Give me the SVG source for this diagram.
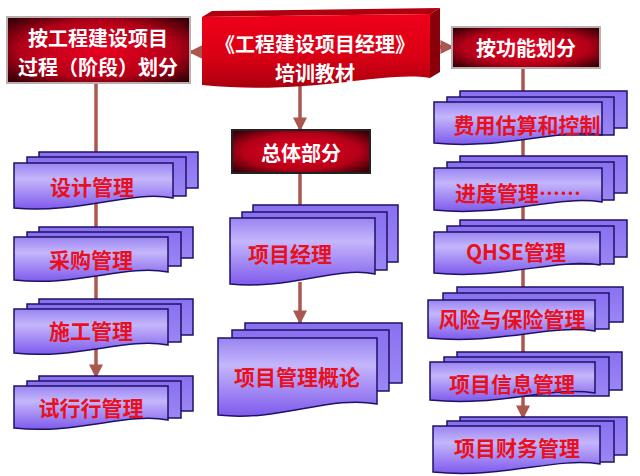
<svg xmlns="http://www.w3.org/2000/svg" width="640" height="476" viewBox="0 0 640 476">
<defs>
<linearGradient id="docg" x1="0" y1="0" x2="0" y2="1">
<stop offset="0" stop-color="#9a84f2"/>
<stop offset="0.35" stop-color="#c4b6fb"/>
<stop offset="1" stop-color="#7f5aec"/>
</linearGradient>
<linearGradient id="backg" x1="0" y1="0" x2="0" y2="1">
<stop offset="0" stop-color="#8a70f0"/>
<stop offset="1" stop-color="#9c86f4"/>
</linearGradient>
<radialGradient id="hdr" cx="0.5" cy="0.5" r="0.65">
<stop offset="0" stop-color="#ea0020"/>
<stop offset="0.65" stop-color="#b40018"/>
<stop offset="1" stop-color="#3a0006"/>
</radialGradient>
<linearGradient id="titleg" x1="0" y1="0" x2="0" y2="1">
<stop offset="0" stop-color="#f0001a"/>
<stop offset="0.6" stop-color="#d80014"/>
<stop offset="1" stop-color="#a8000e"/>
</linearGradient>
<marker id="ah" viewBox="0 0 10 10" refX="9" refY="5" markerWidth="4" markerHeight="4" orient="auto" markerUnits="strokeWidth">
<path d="M0,0 L10,5 L0,10 Z" fill="#a9574f"/>
</marker>
<style>
.doc{fill:url(#docg);stroke:#1c1266;stroke-width:1.5}
.back{fill:url(#backg);stroke:#1c1266;stroke-width:1.5}
.dt{font-family:"Noto Sans CJK SC","Liberation Sans",sans-serif;font-weight:bold;font-size:21px;fill:#e8101e;text-anchor:middle;dominant-baseline:central}
.ht{font-family:"Noto Sans CJK SC","Liberation Sans",sans-serif;font-weight:bold;font-size:20px;fill:#ffffff;text-anchor:middle;dominant-baseline:central}
.hbox{fill:url(#hdr);stroke:#b8b0b0;stroke-width:2}
.con{fill:none;stroke:#a9574f;stroke-width:3.5}
</style>
</defs>
<rect width="640" height="476" fill="#ffffff"/>

<g id="connectors">
<line class="con" x1="96" y1="82" x2="96" y2="377" marker-end="url(#ah)"/>
<line class="con" x1="300" y1="85" x2="300" y2="130" marker-end="url(#ah)"/>
<line class="con" x1="300" y1="173" x2="300" y2="206"/>
<line class="con" x1="300" y1="282" x2="300" y2="323" marker-end="url(#ah)"/>
<line class="con" x1="523" y1="68" x2="523" y2="418" marker-end="url(#ah)"/>
<line class="con" x1="203" y1="52" x2="190" y2="52" marker-end="url(#ah)"/>
<line class="con" x1="440" y1="47" x2="453" y2="47" marker-end="url(#ah)"/>
</g>

<g id="title">
<path d="M202,17 L212,11 L440,8 L430,14 Z" fill="#b00010"/>
<path d="M430,14 L440,8 L440,72 L430,78 Z" fill="#8a000a"/>
<path d="M202,17 L430,14 L430,78 C385,70 310,96 202,85 Z" fill="url(#titleg)"/>
<text class="ht" x="315" y="43" font-size="21">《工程建设项目经理》</text>
<text class="ht" x="315" y="72" font-size="21">培训教材</text>
</g>

<g id="hdr-left">
<rect class="hbox" x="7" y="17" width="183" height="66"/>
<text class="ht" x="98" y="37">按工程建设项目</text>
<text class="ht" x="98" y="66">过程（阶段）划分</text>
</g>

<g id="hdr-right">
<rect class="hbox" x="452" y="27" width="148" height="41"/>
<text class="ht" x="526" y="47">按功能划分</text>
</g>

<g id="hdr-center">
<rect x="232" y="130" width="138" height="43" fill="url(#hdr)" stroke="#222" stroke-width="2"/>
<text class="ht" x="301" y="152">总体部分</text>
</g>

<g id="n-design">
<path class="back" d="M39,152 H198 V188 H39 Z"/>
<path class="back" d="M27,157 H186 V196 H27 Z"/>
<path class="doc" d="M14,163 H173 V198 C130,190 80,214 14,208 Z"/>
<text class="dt" x="92" y="186">设计管理</text>
</g>

<g id="n-purchase">
<path class="back" d="M39,227 H193 V258 H39 Z"/>
<path class="back" d="M27,232 H181 V266 H27 Z"/>
<path class="doc" d="M14,237 H168 V272 C125,264 78,287 14,280 Z"/>
<text class="dt" x="91" y="259">采购管理</text>
</g>

<g id="n-construct">
<path class="back" d="M39,299 H193 V335 H39 Z"/>
<path class="back" d="M27,304 H181 V342 H27 Z"/>
<path class="doc" d="M14,309 H168 V345 C125,337 78,360 14,353 Z"/>
<text class="dt" x="91" y="330">施工管理</text>
</g>

<g id="n-trial">
<path class="back" d="M39,376 H193 V411 H39 Z"/>
<path class="back" d="M27,381 H181 V418 H27 Z"/>
<path class="doc" d="M14,386 H168 V420 C125,412 78,435 14,428 Z"/>
<text class="dt" x="91" y="407">试行行管理</text>
</g>

<g id="n-pm">
<path class="back" d="M253,205 H398 V262 H253 Z"/>
<path class="back" d="M242,212 H387 V270 H242 Z"/>
<path class="doc" d="M230,218 H375 V274 C335,266 290,290 230,284 Z"/>
<text class="dt" x="290" y="253">项目经理</text>
</g>

<g id="n-intro">
<path class="back" d="M245,323 H402 V383 H245 Z"/>
<path class="back" d="M232,330 H389 V391 H232 Z"/>
<path class="doc" d="M218,338 H377 V404 C330,395 280,422 218,415 Z"/>
<text class="dt" x="297" y="376">项目管理概论</text>
</g>

<g id="n-cost">
<path class="back" d="M460,91 H627 V128 H460 Z"/>
<path class="back" d="M447,97 H614 V135 H447 Z"/>
<path class="doc" d="M434,102 H602 V135 C555,128 505,150 434,143 Z"/>
<text class="dt" x="527" y="124">费用估算和控制</text>
</g>

<g id="n-schedule">
<path class="back" d="M460,156 H627 V193 H460 Z"/>
<path class="back" d="M447,162 H614 V200 H447 Z"/>
<path class="doc" d="M434,168 H602 V202 C555,195 505,217 434,210 Z"/>
<text class="dt" x="518" y="192">进度管理……</text>
</g>

<g id="n-qhse">
<path class="back" d="M460,220 H627 V257 H460 Z"/>
<path class="back" d="M447,226 H614 V264 H447 Z"/>
<path class="doc" d="M434,232 H600 V265 C553,258 505,280 434,273 Z"/>
<text class="dt" x="516" y="251">QHSE管理</text>
</g>

<g id="n-risk">
<path class="back" d="M457,287 H623 V322 H457 Z"/>
<path class="back" d="M443,293 H609 V329 H443 Z"/>
<path class="doc" d="M428,300 H595 V331 C548,324 500,345 428,338 Z"/>
<text class="dt" x="512" y="318">风险与保险管理</text>
</g>

<g id="n-info">
<path class="back" d="M457,352 H622 V390 H457 Z"/>
<path class="back" d="M444,357 H609 V396 H444 Z"/>
<path class="doc" d="M430,362 H595 V393 C548,386 500,407 430,400 Z"/>
<text class="dt" x="512" y="383">项目信息管理</text>
</g>

<g id="n-finance">
<path class="back" d="M460,417 H627 V455 H460 Z"/>
<path class="back" d="M447,421 H614 V462 H447 Z"/>
<path class="doc" d="M433,426 H600 V464 C553,457 505,479 433,472 Z"/>
<text class="dt" x="517" y="447">项目财务管理</text>
</g>
</svg>
